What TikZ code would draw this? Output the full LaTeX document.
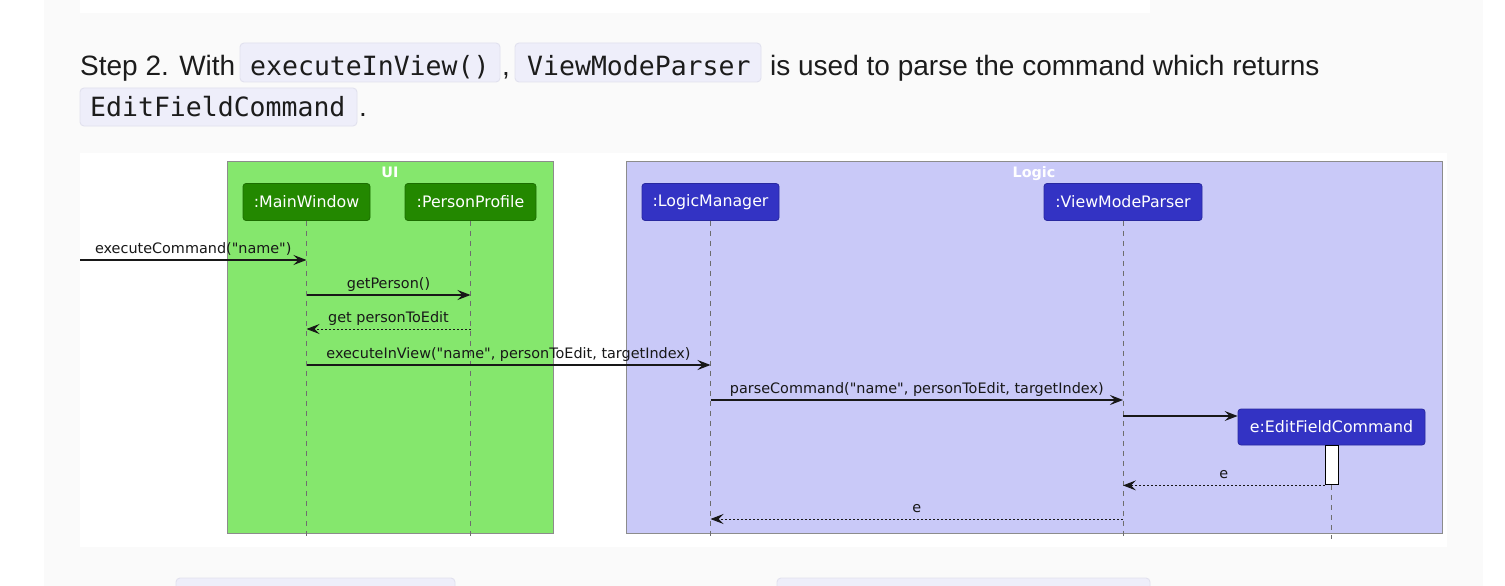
\documentclass[tikz,border=0pt]{standalone}
\usepackage{fontspec}
\setmainfont{Liberation Sans}
\newfontfamily\umlfont{DejaVu Sans}
\newfontfamily\codefont{DejaVu Sans Mono}
\usetikzlibrary{arrows.meta}
\definecolor{pagegray}{HTML}{FAFAFA}
\definecolor{codefill}{HTML}{EEEEFA}
\definecolor{codeline}{HTML}{E1E1EE}
\definecolor{textcol}{HTML}{1C1C1C}
\definecolor{uifill}{HTML}{85E76D}
\definecolor{logicfill}{HTML}{C9C9F8}
\definecolor{framecol}{HTML}{8C8C8C}
\definecolor{greenpart}{HTML}{238800}
\definecolor{greenpartline}{HTML}{1C6E00}
\definecolor{bluepart}{HTML}{3333C4}
\definecolor{bluepartline}{HTML}{2828A0}
\definecolor{lifecol}{HTML}{6E6E6E}
\definecolor{msgcol}{HTML}{181818}
\tikzset{
  codebox/.style={draw=codeline, fill=codefill, line width=0.9pt, rounded corners=4pt},
  codetext/.style={inner sep=0pt, anchor=base west, text=textcol, font=\codefont\fontsize{26.5}{30}\selectfont},
  maintext/.style={inner sep=0pt, anchor=base west, text=textcol, font=\fontsize{28}{32}\selectfont},
  frame/.style={draw=framecol, line width=1pt},
  frametitle/.style={inner sep=0pt, anchor=base, text=white, font=\umlfont\bfseries\fontsize{14.4}{16}\selectfont},
  part/.style={rounded corners=3pt, line width=0.8pt, minimum height=37pt, inner sep=0pt, text=white, font=\umlfont\fontsize{15.8}{18}\selectfont},
  greenp/.style={part, fill=greenpart, draw=greenpartline},
  bluep/.style={part, fill=bluepart, draw=bluepartline},
  lifeline/.style={draw=lifecol, line width=1pt, dash pattern=on 5pt off 5pt},
  msg/.style={draw=msgcol, line width=1.1pt, -{Stealth[length=13pt,width=10pt,inset=5pt]}},
  ret/.style={msg, line width=0.9pt, dash pattern=on 2pt off 2pt},
  lbl/.style={pos=0.5, anchor=base, yshift=6.5pt, inner sep=0pt, text=msgcol, font=\umlfont\fontsize{14.4}{16}\selectfont},
  actbar/.style={draw=black, fill=white, line width=1pt, minimum width=13pt, minimum height=39pt, inner sep=0pt}
}
\begin{document}
\begin{tikzpicture}[x=1pt,y=-1pt]
\useasboundingbox (0,0) rectangle (1505,586);
% page background
\fill[white] (0,0) rectangle (1505,586);
\fill[pagegray] (44,0) rectangle (1483,586);
\fill[white] (80,0) rectangle (1150,13);
% paragraph
\node[maintext] (t1) at (80,75) {Step 2. With};
\draw[codebox] (240,43) rectangle (500,82);
\node[codetext] (c1) at (250,75) {executeInView()};
\node[maintext] (t2) at (502,75) {,};
\draw[codebox] (515,43) rectangle (761,82);
\node[codetext] (c2) at (527,75) {ViewModeParser};
\node[maintext] (t3) at (770,75) {is used to parse the command which returns};
\draw[codebox] (80,88) rectangle (357,126);
\node[codetext] (c3) at (90,117) {EditFieldCommand};
\node[maintext] (t4) at (359,117) {.};
% partial boxes of the next paragraph
\draw[codebox] (176,578) rectangle (455,600);
\draw[codebox] (777,578) rectangle (1150,600);
% diagram background
\fill[white] (80,153) rectangle (1447,547);
% frames
\draw[frame, fill=uifill] (227,161) rectangle (553,533);
\node[frametitle] (uit) at (390,177) {UI};
\draw[frame, fill=logicfill] (626,161) rectangle (1442,533);
\node[frametitle] (lgt) at (1034,177) {Logic};
% participants
\node[greenp, minimum width=127pt] (mw) at (306.5,202) {:MainWindow};
\node[greenp, minimum width=131pt] (pp) at (470.5,202) {:PersonProfile};
\node[bluep, minimum width=137pt] (lm) at (710.5,202) {:LogicManager};
\node[bluep, minimum width=158pt] (vmp) at (1123,202) {:ViewModeParser};
\node[bluep, minimum width=187pt, minimum height=36pt] (efc) at (1331.5,427) {e:EditFieldCommand};
% lifeline ends
\coordinate (bot) at (0,539);
\draw[lifeline] (mw.south) -- (mw |- bot);
\draw[lifeline] (pp.south) -- (pp |- bot);
\draw[lifeline] (lm.south) -- (lm |- bot);
\draw[lifeline] (vmp.south) -- (vmp |- bot);
\draw[lifeline] (efc.south) -- (efc |- bot);
\node[actbar, anchor=north] (act) at (efc.south) {};
% message rows
\coordinate (in) at (80,260);
\coordinate (r2) at (0,295);
\coordinate (r3) at (0,329);
\coordinate (r4) at (0,365);
\coordinate (r5) at (0,400);
\coordinate (r6) at (0,416);
\coordinate (r8) at (0,519);
\draw[msg] (in) -- node[lbl] {executeCommand("name")} (mw |- in);
\draw[msg] (mw |- r2) -- node[lbl] {getPerson()} (pp |- r2);
\draw[ret] (pp |- r3) -- node[lbl] {get personToEdit} (mw |- r3);
\draw[msg] (mw |- r4) -- node[lbl] {executeInView("name", personToEdit, targetIndex)} (lm |- r4);
\draw[msg] (lm |- r5) -- node[lbl] {parseCommand("name", personToEdit, targetIndex)} (vmp |- r5);
\draw[msg] (vmp |- r6) -- (efc.west |- r6);
\draw[ret] (act.south west) -- node[lbl] {e} (vmp |- act.south);
\draw[ret] (vmp |- r8) -- node[lbl] {e} (lm |- r8);
\end{tikzpicture}
\end{document}
